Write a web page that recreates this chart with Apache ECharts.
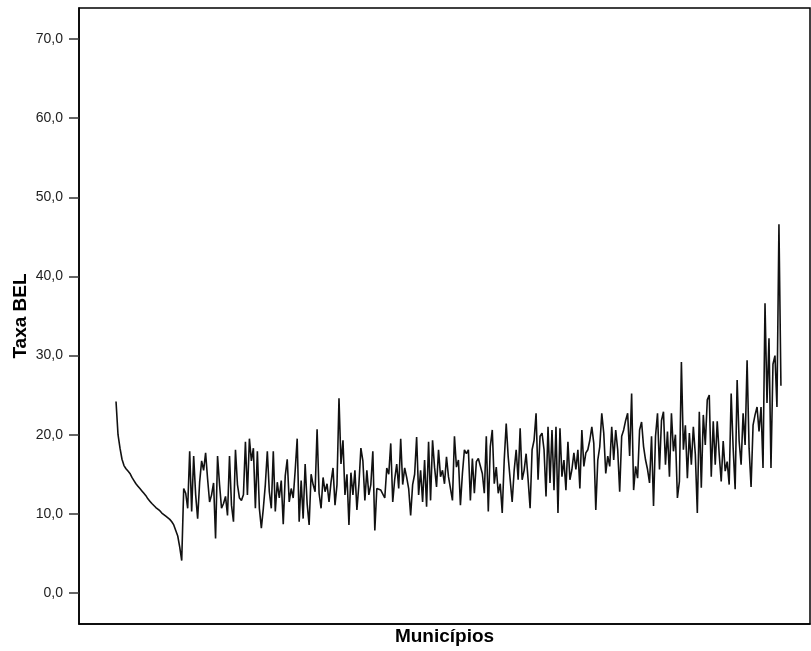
<!DOCTYPE html>
<html>
<head>
<meta charset="utf-8">
<script src="https://cdn.jsdelivr.net/npm/echarts@6/dist/echarts.min.js"></script>
<style>
  html, body { margin: 0; padding: 0; background: #fff; }
  #chart { width: 811px; height: 651px; }
</style>
</head>
<body>
<div id="chart"></div>
<script>
// municípios ordenados: primeiro trecho decrescente, depois a série ruidosa
var declining = [24.2, 20.0, 18.3, 16.9, 16.1, 15.7, 15.4, 15.1, 14.6, 14.2, 13.8, 13.5, 13.2, 12.9, 12.6, 12.3, 11.9,
  11.6, 11.3, 11.1, 10.8, 10.6, 10.4, 10.1, 9.9, 9.7, 9.5, 9.3, 9.0, 8.6, 7.9, 7.2, 5.8, 4.1]

var part1 = [13.2, 12.6, 10.7, 17.9, 10.3, 17.3, 12.4, 9.4, 14.0, 16.7, 15.5, 17.7, 14.4, 11.5, 12.4, 13.9, 6.9, 17.3,
  13.7, 10.7, 11.3, 12.2, 9.8, 17.3, 11.1, 9.0, 18.1, 13.7, 12.0, 11.7, 12.4, 19.1, 12.4, 19.5, 16.7, 18.3, 10.7, 17.9,
  10.7, 8.2, 10.7, 13.7, 17.9, 12.8, 10.7, 17.9, 10.3, 14.0, 12.0, 14.2, 8.7, 14.8, 16.9, 11.5, 13.2, 12.0, 15.5, 19.5]

var part2 = [9.0, 14.2, 9.4, 16.3, 11.3, 8.6, 15.0, 13.7, 12.8, 20.7, 12.6, 10.7, 14.6, 12.8, 13.8, 11.5, 14.0, 15.8,
  11.1, 13.7, 24.6, 16.3, 19.3, 12.4, 15.0, 8.6, 15.2, 12.4, 15.5, 10.5, 13.7, 18.3, 16.7, 11.7, 15.5, 12.4, 13.7, 17.9,
  7.9, 13.2, 13.4, 13.0, 12.8, 12.0, 15.8, 15.0, 18.9, 11.5, 14.4, 16.3, 13.2, 19.5, 13.7, 15.8, 14.6, 13.2, 9.8, 13.7,
  15.0, 19.7]

var part3 = [12.4, 15.5, 11.5, 16.8, 10.9, 19.1, 11.7, 19.3, 15.9, 13.4, 18.1, 14.7, 15.5, 13.8, 17.2, 14.7, 14.7, 11.7,
  19.8, 15.9, 16.8, 11.1, 15.1, 18.1, 17.6, 18.1, 11.7, 17.0, 12.6, 16.6, 17.0, 17.2, 15.1, 12.6, 19.8, 10.3, 18.5, 20.6,
  13.8, 15.9, 12.6, 13.8, 10.1, 16.8, 21.4, 17.2, 14.3, 11.5, 15.5, 18.1, 14.3, 20.8, 14.3, 15.5, 17.6, 14.3, 10.7, 18.1,
  19.3, 22.7, 14.3, 19.8]

var part4 = [20.2, 18.1, 12.2, 21.0, 13.9, 20.6, 13.0, 21.0, 10.1, 20.8, 14.7, 16.8, 13.0, 19.1, 14.3, 15.6, 17.7, 15.6,
  18.1, 13.2, 20.6, 16.0, 17.7, 18.1, 19.3, 21.0, 18.9, 10.5, 16.8, 18.5, 22.7, 20.2, 15.1, 17.3, 16.0, 21.0, 16.8, 20.6,
  18.1, 12.8, 19.8, 20.6, 21.8, 22.7, 17.3, 25.2, 13.0, 16.0, 14.5, 20.6, 21.6, 18.5, 16.8, 15.6, 13.9, 19.8, 11.0, 19.8,
  22.7, 15.6, 21.8]

var part5 = [22.9, 16.2, 20.4, 14.7, 22.7, 17.9, 20.0, 12.0, 14.1, 29.2, 18.1, 21.2, 14.5, 20.2, 16.2, 21.0, 17.5, 10.1,
  22.9, 13.3, 22.5, 18.7, 24.4, 25.0, 14.7, 21.7, 16.2, 21.7, 17.5, 14.1, 19.2, 15.4, 16.6, 13.7, 25.2, 18.3, 13.1, 26.9,
  19.2, 16.2, 22.7, 18.7, 29.4, 18.3, 13.4, 21.2, 22.5, 23.5, 20.4, 23.5, 15.8, 36.6, 24.0, 32.2, 15.8, 28.9, 30.0, 23.5,
  46.6, 26.2]

var yTicks = [0, 10, 20, 30, 40, 50, 60, 70]

var values = declining.concat(part1, part2, part3, part4, part5)
var seriesData = values.map(function (v, i) { return [i, v] })

var myChart = echarts.init(document.getElementById('chart'))
var option = {
  animation: false,
  backgroundColor: '#fff',
  textStyle: { fontFamily: 'Liberation Sans, Arial, sans-serif' },
  grid: {
    left: 79, top: 8, right: 1, bottom: 27,
    containLabel: false,
    outerBoundsMode: 'none',
    show: true, borderColor: '#000', borderWidth: 1.5
  },
  xAxis: {
    type: 'value',
    min: -18.6,
    max: 348.6,
    name: 'Municípios',
    nameLocation: 'middle',
    nameGap: 3,
    nameMoveOverlap: false,
    nameTextStyle: { fontSize: 19, fontWeight: 'bold', color: '#000', verticalAlign: 'top' },
    axisLine: { show: true, onZero: false, lineStyle: { color: '#000', width: 1.5 } },
    axisTick: { show: false },
    axisLabel: { show: false },
    splitLine: { show: false }
  },
  yAxis: {
    type: 'value',
    min: -3.92,
    max: 73.92,
    name: 'Taxa BEL',
    nameLocation: 'middle',
    nameGap: 49,
    nameMoveOverlap: false,
    nameTextStyle: { fontSize: 19, fontWeight: 'bold', color: '#000' },
    axisLine: { show: true, onZero: false, lineStyle: { color: '#000', width: 1.5 } },
    axisTick: { show: true, length: 10, customValues: yTicks, lineStyle: { color: '#333', width: 1.5 } },
    axisLabel: {
      customValues: yTicks,
      margin: 16,
      fontSize: 14,
      color: '#222',
      formatter: function (v) { return v.toFixed(1).replace('.', ',') }
    },
    splitLine: { show: false }
  },
  series: [{
    type: 'line',
    data: seriesData,
    showSymbol: false,
    symbol: 'none',
    lineStyle: { color: '#111', width: 1.6 }
  }]
}
myChart.setOption(option)
</script>
</body>
</html>
